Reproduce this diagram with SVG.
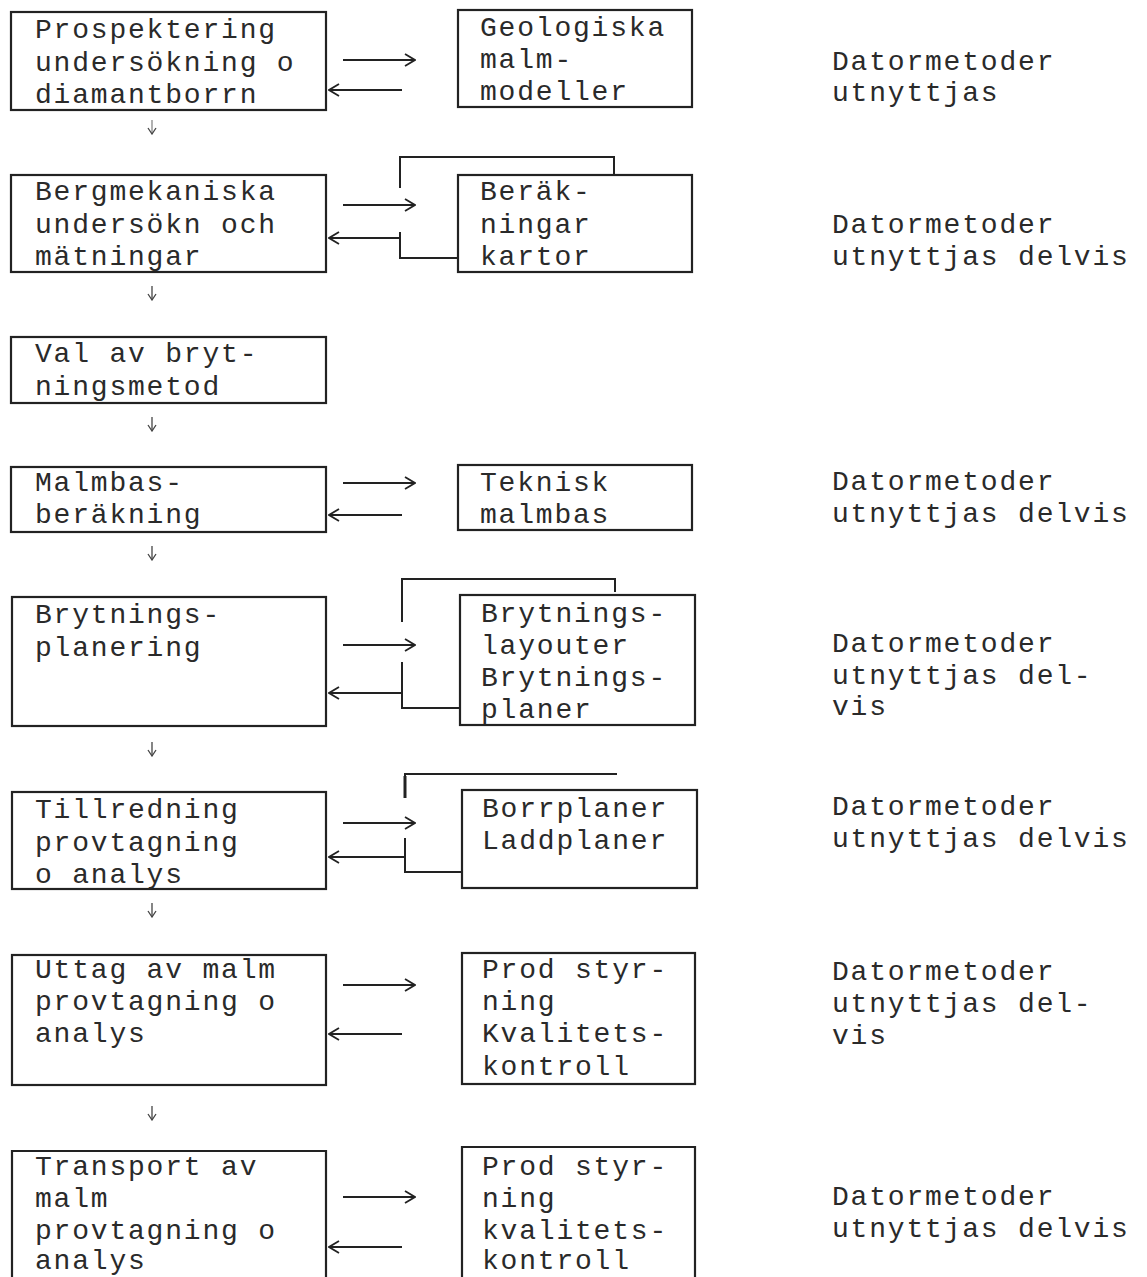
<svg xmlns="http://www.w3.org/2000/svg" width="1147" height="1277" viewBox="0 0 1147 1277">
<style>
.box{fill:none;stroke:#222;stroke-width:2.2}
.t{font-family:"Courier New","Liberation Mono",monospace;font-size:28px;letter-spacing:1.8px;fill:#2a2a2a}
.c{fill:none;stroke:#222;stroke-width:1.8}
.br{fill:none;stroke:#222;stroke-width:2}
</style>
<defs>
<marker id="ah" viewBox="0 0 12 14" refX="11" refY="7" markerWidth="12" markerHeight="14" markerUnits="userSpaceOnUse" orient="auto">
<path d="M1,1 L11,7 L1,13" fill="none" stroke="#222" stroke-width="1.8"/>
</marker>
<marker id="dh" viewBox="0 0 10 8" refX="5" refY="7" markerWidth="10" markerHeight="8" markerUnits="userSpaceOnUse" orient="0">
<path d="M1,1 L5,7 L9,1" fill="none" stroke="#444" stroke-width="1.3"/>
</marker>
</defs>
<rect width="1147" height="1277" fill="#fff"/>

<g id="connectors">
<!-- row 1 -->
<line class="c" x1="343" y1="60" x2="415" y2="60" marker-end="url(#ah)"/>
<line class="c" x1="402" y1="90" x2="329" y2="90" marker-end="url(#ah)"/>
<!-- row 2 -->
<line class="c" x1="343" y1="205" x2="415" y2="205" marker-end="url(#ah)"/>
<line class="c" x1="400" y1="238" x2="329" y2="238" marker-end="url(#ah)"/>
<path class="br" d="M400,188 V157 H614 V175"/>
<path class="br" d="M400,232 V258 H458"/>
<!-- row 4 -->
<line class="c" x1="343" y1="483" x2="415" y2="483" marker-end="url(#ah)"/>
<line class="c" x1="402" y1="515" x2="329" y2="515" marker-end="url(#ah)"/>
<!-- row 5 -->
<line class="c" x1="343" y1="645" x2="415" y2="645" marker-end="url(#ah)"/>
<line class="c" x1="402" y1="693" x2="329" y2="693" marker-end="url(#ah)"/>
<path class="br" d="M402,622 V579 H615 V592"/>
<path class="br" d="M402,662 V708 H460"/>
<!-- row 6 -->
<line class="c" x1="343" y1="823" x2="415" y2="823" marker-end="url(#ah)"/>
<line class="c" x1="405" y1="857" x2="329" y2="857" marker-end="url(#ah)"/>
<path class="br" d="M405,798 V774 H617"/>
<path class="br" d="M405,838 V872 H462"/>
<line x1="405" y1="776" x2="405" y2="798" stroke="#222" stroke-width="3"/>
<!-- row 7 -->
<line class="c" x1="343" y1="985" x2="415" y2="985" marker-end="url(#ah)"/>
<line class="c" x1="402" y1="1034" x2="329" y2="1034" marker-end="url(#ah)"/>
<!-- row 8 -->
<line class="c" x1="343" y1="1197" x2="415" y2="1197" marker-end="url(#ah)"/>
<line class="c" x1="402" y1="1247" x2="329" y2="1247" marker-end="url(#ah)"/>
<!-- down arrows -->
<line x1="152" y1="120" x2="152" y2="134" stroke="#888" stroke-width="1.3" marker-end="url(#dh)"/>
<line x1="152" y1="286" x2="152" y2="300" stroke="#444" stroke-width="1.3" marker-end="url(#dh)"/>
<line x1="152" y1="417" x2="152" y2="431" stroke="#444" stroke-width="1.3" marker-end="url(#dh)"/>
<line x1="152" y1="546" x2="152" y2="560" stroke="#444" stroke-width="1.3" marker-end="url(#dh)"/>
<line x1="152" y1="742" x2="152" y2="756" stroke="#444" stroke-width="1.3" marker-end="url(#dh)"/>
<line x1="152" y1="903" x2="152" y2="917" stroke="#444" stroke-width="1.3" marker-end="url(#dh)"/>
<line x1="152" y1="1106" x2="152" y2="1120" stroke="#444" stroke-width="1.3" marker-end="url(#dh)"/>
</g>

<g id="n1">
<rect class="box" x="11" y="12" width="315" height="98"/>
<text class="t" x="35" y="38">Prospektering</text>
<text class="t" x="35" y="71">undersökning o</text>
<text class="t" x="35" y="103">diamantborrn</text>
</g>
<g id="n1r">
<rect class="box" x="458" y="10" width="234" height="97"/>
<text class="t" x="480" y="36">Geologiska</text>
<text class="t" x="480" y="68">malm-</text>
<text class="t" x="480" y="100">modeller</text>
</g>
<g id="n1c">
<text class="t" x="832" y="70">Datormetoder</text>
<text class="t" x="832" y="101">utnyttjas</text>
</g>

<g id="n2">
<rect class="box" x="11" y="175" width="315" height="97"/>
<text class="t" x="35" y="200">Bergmekaniska</text>
<text class="t" x="35" y="233">undersökn och</text>
<text class="t" x="35" y="265">mätningar</text>
</g>
<g id="n2r">
<rect class="box" x="458" y="175" width="234" height="97"/>
<text class="t" x="480" y="200">Beräk-</text>
<text class="t" x="480" y="233">ningar</text>
<text class="t" x="480" y="265">kartor</text>
</g>
<g id="n2c">
<text class="t" x="832" y="233">Datormetoder</text>
<text class="t" x="832" y="265">utnyttjas delvis</text>
</g>

<g id="n3">
<rect class="box" x="11" y="337" width="315" height="66"/>
<text class="t" x="35" y="362">Val av bryt-</text>
<text class="t" x="35" y="395">ningsmetod</text>
</g>

<g id="n4">
<rect class="box" x="11" y="467" width="315" height="65"/>
<text class="t" x="35" y="491">Malmbas-</text>
<text class="t" x="35" y="523">beräkning</text>
</g>
<g id="n4r">
<rect class="box" x="458" y="465" width="234" height="65"/>
<text class="t" x="480" y="491">Teknisk</text>
<text class="t" x="480" y="523">malmbas</text>
</g>
<g id="n4c">
<text class="t" x="832" y="490">Datormetoder</text>
<text class="t" x="832" y="522">utnyttjas delvis</text>
</g>

<g id="n5">
<rect class="box" x="12" y="597" width="314" height="129"/>
<text class="t" x="35" y="623">Brytnings-</text>
<text class="t" x="35" y="656">planering</text>
</g>
<g id="n5r">
<rect class="box" x="460" y="595" width="235" height="130"/>
<text class="t" x="481" y="622">Brytnings-</text>
<text class="t" x="481" y="654">layouter</text>
<text class="t" x="481" y="686">Brytnings-</text>
<text class="t" x="481" y="718">planer</text>
</g>
<g id="n5c">
<text class="t" x="832" y="652">Datormetoder</text>
<text class="t" x="832" y="684">utnyttjas del-</text>
<text class="t" x="832" y="715">vis</text>
</g>

<g id="n6">
<rect class="box" x="12" y="792" width="314" height="97"/>
<text class="t" x="35" y="818">Tillredning</text>
<text class="t" x="35" y="851">provtagning</text>
<text class="t" x="35" y="883">o analys</text>
</g>
<g id="n6r">
<rect class="box" x="462" y="790" width="235" height="98"/>
<text class="t" x="482" y="817">Borrplaner</text>
<text class="t" x="482" y="849">Laddplaner</text>
</g>
<g id="n6c">
<text class="t" x="832" y="815">Datormetoder</text>
<text class="t" x="832" y="847">utnyttjas delvis</text>
</g>

<g id="n7">
<rect class="box" x="12" y="955" width="314" height="130"/>
<text class="t" x="35" y="978">Uttag av malm</text>
<text class="t" x="35" y="1010">provtagning o</text>
<text class="t" x="35" y="1042">analys</text>
</g>
<g id="n7r">
<rect class="box" x="462" y="953" width="233" height="131"/>
<text class="t" x="482" y="978">Prod styr-</text>
<text class="t" x="482" y="1010">ning</text>
<text class="t" x="482" y="1042">Kvalitets-</text>
<text class="t" x="482" y="1075">kontroll</text>
</g>
<g id="n7c">
<text class="t" x="832" y="980">Datormetoder</text>
<text class="t" x="832" y="1012">utnyttjas del-</text>
<text class="t" x="832" y="1044">vis</text>
</g>

<g id="n8">
<path class="box" d="M12,1280 V1151 H326 V1280"/>
<text class="t" x="35" y="1175">Transport av</text>
<text class="t" x="35" y="1207">malm</text>
<text class="t" x="35" y="1239">provtagning o</text>
<text class="t" x="35" y="1269">analys</text>
</g>
<g id="n8r">
<path class="box" d="M462,1280 V1147 H695 V1280"/>
<text class="t" x="482" y="1175">Prod styr-</text>
<text class="t" x="482" y="1207">ning</text>
<text class="t" x="482" y="1239">kvalitets-</text>
<text class="t" x="482" y="1269">kontroll</text>
</g>
<g id="n8c">
<text class="t" x="832" y="1205">Datormetoder</text>
<text class="t" x="832" y="1237">utnyttjas delvis</text>
</g>
</svg>
